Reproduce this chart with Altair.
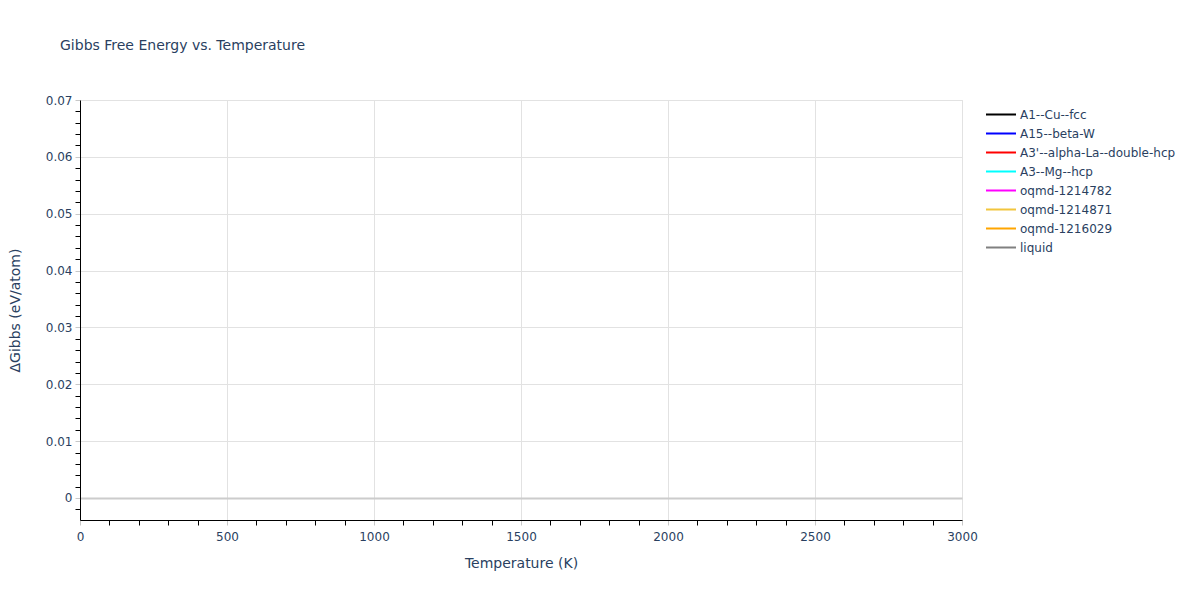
import altair as alt
import pandas as pd

# Series shown in the legend (the reference draws no visible curves)
phases = ["A1--Cu--fcc", "A15--beta-W", "A3'--alpha-La--double-hcp", "A3--Mg--hcp",
          "oqmd-1214782", "oqmd-1214871", "oqmd-1216029", "liquid"]
colors = ["black", "blue", "red", "cyan", "magenta", "#f2c53d", "orange", "gray"]
temperature = [None] * len(phases)
delta_g = [None] * len(phases)

x_ticks = list(range(0, 3001, 100))
y_ticks = [round(-0.002 + 0.002 * i, 3) for i in range(37)]

df = pd.DataFrame({"phase": phases, "T": temperature, "G": delta_g})

font = "DejaVu Sans"
txt = "#2a3f5f"

x_major = "datum.value % 500 === 0"
y_major = "abs(datum.value*100 - round(datum.value*100)) < 1e-6"
y_zero = "abs(datum.value) < 1e-9"

chart = alt.Chart(df).mark_line(strokeWidth=2).encode(
    x=alt.X("T:Q",
            scale=alt.Scale(domain=[0, 3000], nice=False, zero=False),
            axis=alt.Axis(values=x_ticks, title="Temperature (K)", format="d",
                          labelExpr=f"{x_major} ? datum.label : ''",
                          labelOverlap=False, labelFlush=False,
                          tickSize=5, tickWidth=1,
                          tickColor={"condition": {"test": x_major, "value": "#c8c8c8"}, "value": "black"},
                          gridColor="#e2e2e2",
                          gridOpacity={"condition": {"test": x_major, "value": 1}, "value": 0},
                          domainColor="black", domainWidth=1,
                          labelFont=font, labelFontSize=12, labelColor=txt, labelPadding=6,
                          titleFont=font, titleFontSize=14, titleColor=txt,
                          titleFontWeight="normal", titlePadding=14)),
    y=alt.Y("G:Q",
            scale=alt.Scale(domain=[-0.00387, 0.07], nice=False, zero=False),
            axis=alt.Axis(values=y_ticks, title="ΔGibbs (eV/atom)", format=".2~f",
                          labelExpr=f"{y_major} ? datum.label : ''",
                          labelOverlap=False, labelFlush=False,
                          tickSize=5, tickWidth=1,
                          tickColor={"condition": {"test": y_major, "value": "#c8c8c8"}, "value": "black"},
                          gridColor={"condition": {"test": y_zero, "value": "#cccccc"}, "value": "#e2e2e2"},
                          gridWidth={"condition": {"test": y_zero, "value": 2}, "value": 1},
                          gridOpacity={"condition": {"test": y_major, "value": 1}, "value": 0},
                          domainColor="black", domainWidth=1,
                          labelFont=font, labelFontSize=12, labelColor=txt, labelPadding=3,
                          titleFont=font, titleFontSize=14, titleColor=txt,
                          titleFontWeight="normal", titlePadding=23)),
    color=alt.Color("phase:N",
                    scale=alt.Scale(domain=phases, range=colors),
                    legend=alt.Legend(title=None, orient="none", legendX=905, legendY=5,
                                      symbolType="stroke", symbolSize=900,
                                      symbolStrokeWidth=2, rowPadding=0, clipHeight=19,
                                      labelOffset=3, labelFont=font, labelFontSize=12,
                                      labelColor=txt)),
).properties(
    width=882,
    height=420,
    autosize=alt.AutoSizeParams(type="none"),
    padding={"left": 72, "top": 92, "right": 230, "bottom": 72},
    title=alt.TitleParams("Gibbs Free Energy vs. Temperature", anchor="start", frame="group",
                          dx=-20, font=font, fontSize=14, fontWeight="normal", color=txt,
                          offset=41),
).configure_view(stroke=None).configure(background="white")

chart.save("out.html", embed_options={"renderer": "svg", "actions": False})
